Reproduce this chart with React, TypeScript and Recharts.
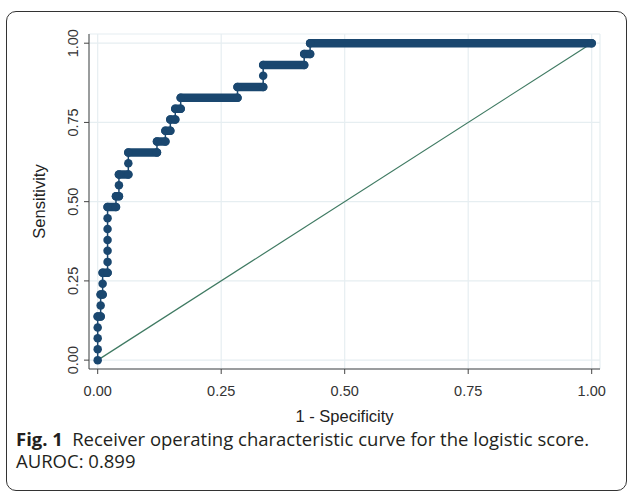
import React from "react";
import { LineChart, Line, XAxis, YAxis, CartesianGrid } from "recharts";

// sensitivity levels (one per positive case) and the 1 - specificity span at each level
const sensitivity = [
  0, 0.034, 0.069, 0.103, 0.138, 0.172, 0.207, 0.241, 0.276, 0.31, 0.345, 0.379,
  0.414, 0.448, 0.483, 0.517, 0.552, 0.586, 0.621, 0.655, 0.69, 0.724, 0.759,
  0.793, 0.828, 0.862, 0.897, 0.931, 0.966, 1.0,
];
const fprStart = [
  0, 0, 0, 0, 0, 0.006, 0.006, 0.01, 0.01, 0.02, 0.02, 0.02, 0.02, 0.02, 0.02,
  0.037, 0.043, 0.043, 0.062, 0.062, 0.12, 0.137, 0.147, 0.157, 0.168, 0.283,
  0.335, 0.335, 0.418, 0.43,
];
const fprEnd = [
  0, 0, 0, 0, 0.006, 0.006, 0.01, 0.01, 0.02, 0.02, 0.02, 0.02, 0.02, 0.02,
  0.037, 0.043, 0.043, 0.062, 0.062, 0.12, 0.137, 0.147, 0.157, 0.168, 0.283,
  0.335, 0.335, 0.418, 0.43, 1.0,
];
const xTicks = [0, 0.25, 0.5, 0.75, 1];
const yTicks = [0, 0.25, 0.5, 0.75, 1];
const reference = [
  { x: 0, y: 0 },
  { x: 1, y: 1 },
];

const rocPoints = sensitivity.flatMap((s, i) =>
  fprStart[i] === fprEnd[i]
    ? [{ x: fprStart[i], y: s }]
    : [
        { x: fprStart[i], y: s },
        { x: fprEnd[i], y: s },
      ]
);
const runPoints = sensitivity.flatMap((s, i) =>
  fprStart[i] === fprEnd[i]
    ? []
    : [
        { x: fprStart[i], y: s },
        { x: fprEnd[i], y: s },
        { x: fprEnd[i], y: null },
      ]
);

const navy = "#1a476f";
const axisFont = "'Liberation Sans', Arial, sans-serif";

const YTick = (props: any) => {
  const { y, payload } = props;
  return (
    <text
      x={78}
      y={y}
      transform={`rotate(-90, 78, ${y})`}
      textAnchor="middle"
      fontSize={14.5}
      fontFamily={axisFont}
      fill="#333"
    >
      {payload.value.toFixed(2)}
    </text>
  );
};

const XTick = (props: any) => {
  const { x, payload } = props;
  return (
    <text
      x={x}
      y={396}
      textAnchor="middle"
      fontSize={14.5}
      fontFamily={axisFont}
      fill="#333"
    >
      {payload.value.toFixed(2)}
    </text>
  );
};

export default function App() {
  return (
    <div
      style={{
        position: "absolute",
        left: 0,
        top: 0,
        width: 627,
        height: 492,
        background: "#fff",
        overflow: "hidden",
      }}
    >
      <div
        style={{
          position: "absolute",
          left: 6,
          top: 11,
          width: 619,
          height: 478,
          border: "1.3px solid #333",
          borderRadius: 10,
        }}
      />
      <div style={{ position: "absolute", left: 0, top: 0 }}>
        <LineChart
          width={627}
          height={430}
          margin={{ top: 34, right: 27, bottom: 0, left: 0 }}
        >
          <CartesianGrid stroke="#e6eef1" strokeWidth={1.2} />
          <XAxis
            type="number"
            dataKey="x"
            domain={[-0.0176, 1.0168]}
            allowDataOverflow
            ticks={xTicks}
            tick={<XTick />}
            tickSize={5}
            height={61}
            stroke="#444"
            label={{
              content: (p: any) => (
                <text
                  x={p.viewBox.x + p.viewBox.width / 2}
                  y={422}
                  textAnchor="middle"
                  fontSize={16.5}
                  fontFamily={axisFont}
                  fill="#222"
                >
                  1 - Specificity
                </text>
              ),
            }}
          />
          <YAxis
            type="number"
            dataKey="y"
            domain={[-0.028, 1.029]}
            allowDataOverflow
            ticks={yTicks}
            tick={<YTick />}
            tickSize={5}
            width={89}
            stroke="#444"
            label={{
              content: (p: any) => (
                <text
                  x={45}
                  y={p.viewBox.y + p.viewBox.height / 2}
                  transform={`rotate(-90, 45, ${p.viewBox.y + p.viewBox.height / 2})`}
                  textAnchor="middle"
                  fontSize={16.5}
                  fontFamily={axisFont}
                  fill="#222"
                >
                  Sensitivity
                </text>
              ),
            }}
          />
          <Line
            data={reference}
            dataKey="y"
            stroke="#3f7a62"
            strokeWidth={1.2}
            dot={false}
            isAnimationActive={false}
          />
          <Line
            data={runPoints}
            dataKey="y"
            stroke={navy}
            strokeWidth={8.5}
            strokeLinecap="round"
            connectNulls={false}
            dot={false}
            isAnimationActive={false}
          />
          <Line
            data={rocPoints}
            dataKey="y"
            stroke={navy}
            strokeWidth={1.5}
            dot={{ r: 4.25, fill: navy, stroke: "none" }}
            isAnimationActive={false}
          />
        </LineChart>
      </div>
      <div
        style={{
          position: "absolute",
          left: 16,
          top: 428,
          width: 605,
          fontFamily: "'Open Sans', sans-serif",
          fontSize: 18.5,
          lineHeight: "22px",
          color: "#231f20",
          whiteSpace: "nowrap",
        }}
      >
        <div>
          <b>Fig. 1</b>
          {"\u2002"}Receiver operating characteristic curve for the logistic score.
        </div>
        <div>AUROC: 0.899</div>
      </div>
    </div>
  );
}
